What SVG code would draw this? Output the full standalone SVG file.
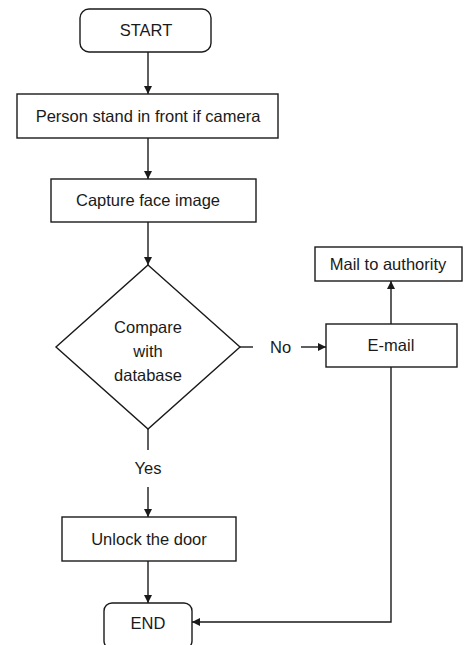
<svg xmlns="http://www.w3.org/2000/svg" width="465" height="645" viewBox="0 0 465 645">
<style>
.box{fill:#fff;stroke:#1a1a1a;stroke-width:1.4}
.ln{fill:none;stroke:#1a1a1a;stroke-width:1.4}
text{font-family:"Liberation Sans",Arial,sans-serif;font-size:16.5px;fill:#1a1a1a;text-anchor:middle}
</style>
<defs>
<marker id="ah" viewBox="0 0 10 10" refX="10" refY="5" markerWidth="8" markerHeight="8" markerUnits="userSpaceOnUse" orient="auto">
<path d="M0,0 L10,5 L0,10 z" fill="#1a1a1a"/>
</marker>
</defs>
<rect width="465" height="645" fill="#fff"/>
<g id="connectors">
<line class="ln" x1="148" y1="52" x2="148" y2="94" marker-end="url(#ah)"/>
<line class="ln" x1="148" y1="138" x2="148" y2="179" marker-end="url(#ah)"/>
<line class="ln" x1="148" y1="222" x2="148" y2="265" marker-end="url(#ah)"/>
<line class="ln" x1="240" y1="347" x2="253" y2="347"/>
<line class="ln" x1="301" y1="347" x2="326" y2="347" marker-end="url(#ah)"/>
<line class="ln" x1="391" y1="324" x2="391" y2="281" marker-end="url(#ah)"/>
<polyline class="ln" points="391,367 391,622 192,622" marker-end="url(#ah)"/>
<line class="ln" x1="148" y1="429" x2="148" y2="450"/>
<line class="ln" x1="148" y1="487" x2="148" y2="517" marker-end="url(#ah)"/>
<line class="ln" x1="148" y1="561" x2="148" y2="603" marker-end="url(#ah)"/>
<text x="270" y="353" style="text-anchor:start">No</text>
<text x="148" y="474">Yes</text>
</g>
<g id="start">
<rect class="box" x="80" y="9" width="131" height="43" rx="9"/>
<text x="146" y="36">START</text>
</g>
<g id="person">
<rect class="box" x="17" y="94" width="261" height="44"/>
<text x="148" y="122">Person stand in front if camera</text>
</g>
<g id="capture">
<rect class="box" x="51" y="179" width="205" height="43"/>
<text x="148" y="206">Capture face image</text>
</g>
<g id="compare">
<polygon class="box" points="148,265 240,347 148,429 56,347"/>
<text x="148" y="333">Compare</text>
<text x="148" y="357">with</text>
<text x="148" y="381">database</text>
</g>
<g id="email">
<rect class="box" x="326" y="324" width="131" height="43"/>
<text x="391" y="351">E-mail</text>
</g>
<g id="mail">
<rect class="box" x="315" y="247" width="147" height="34"/>
<text x="388" y="270">Mail to authority</text>
</g>
<g id="unlock">
<rect class="box" x="62" y="517" width="174" height="44"/>
<text x="149" y="545">Unlock the door</text>
</g>
<g id="end">
<rect class="box" x="104" y="603" width="88" height="46" rx="8"/>
<text x="148" y="629">END</text>
</g>
</svg>
